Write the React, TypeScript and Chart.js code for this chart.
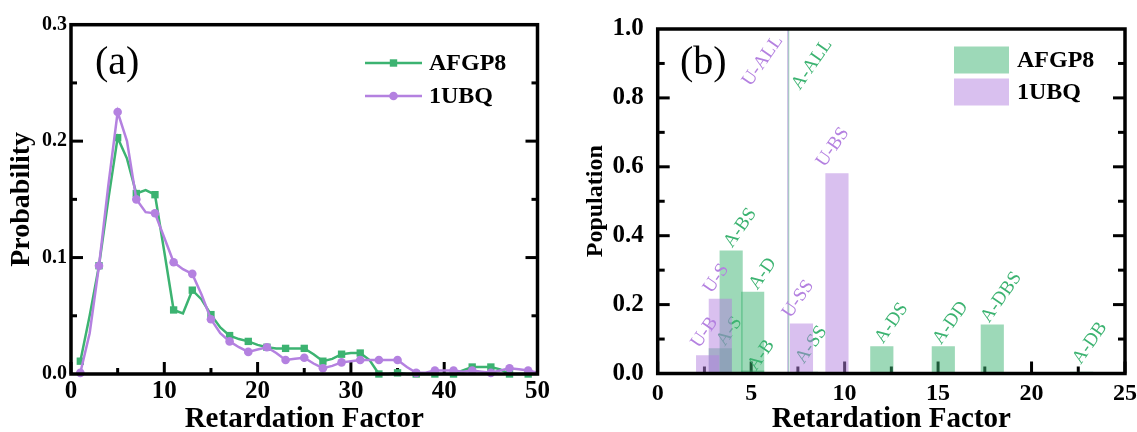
import React, { useEffect, useRef } from 'react';
import { Chart, registerables } from 'chart.js';

Chart.register(...registerables);

const FONT = '"Liberation Serif", "Times New Roman", serif';
const GREEN = '#3cb371';
const PURPLE = '#b481e0';
const GREEN_FILL = 'rgba(60,179,113,0.5)';
const PURPLE_FILL = 'rgba(180,129,224,0.5)';

// ---------- Panel (a) ----------
const retardationFactors = [
  1, 2, 3, 4, 5, 6, 7, 8, 9, 10, 11, 12, 13, 14, 15, 16, 17, 18, 19, 20, 21, 22, 23, 24, 25,
  26, 27, 28, 29, 30, 31, 32, 33, 34, 35, 36, 37, 38, 39, 40, 41, 42, 43, 44, 45, 46, 47, 48, 49, 50,
];
const afgp8Probability = [
  0.011, 0.05, 0.093, 0.15, 0.203, 0.185, 0.155, 0.158, 0.154, 0.105,
  0.055, 0.052, 0.072, 0.064, 0.051, 0.04, 0.033, 0.03, 0.028, 0.025,
  0.023, 0.022, 0.022, 0.022, 0.022, 0.017, 0.011, 0.013, 0.017, 0.018,
  0.018, 0.012, 0.0, 0.0, 0.001, 0.0, 0.0, 0.0, 0.0, 0.0,
  0.0, 0.003, 0.006, 0.006, 0.006, 0.004, 0.0, 0.0, 0.0, 0.0,
];
const ubqProbability = [
  0.001, 0.035, 0.093, 0.162, 0.225, 0.2, 0.15, 0.139, 0.138, 0.117,
  0.096, 0.09, 0.086, 0.068, 0.047, 0.035, 0.028, 0.023, 0.019, 0.021,
  0.023, 0.018, 0.012, 0.013, 0.014, 0.009, 0.005, 0.007, 0.01, 0.011,
  0.012, 0.012, 0.012, 0.012, 0.012, 0.006, 0.001, 0.001, 0.003, 0.003,
  0.003, 0.002, 0.003, 0.002, 0.001, 0.003, 0.005, 0.004, 0.003, 0.001,
];
const aXMajorTicks = [0, 10, 20, 30, 40, 50];
const aXMinorTicks = [5, 15, 25, 35, 45];
const aYMajorTicks = [0.1, 0.2];
const aYMinorTicks = [0.05, 0.15, 0.25];

// ---------- Panel (b) ----------
const ubqStates = ['U-B', 'U-S', 'U-SS', 'U-BS'];
const ubqStateFactor = [2.67, 3.35, 7.69, 9.59];
const ubqStatePopulation = [0.052, 0.216, 0.144, 0.58];
const ubqLabelFactor = [2.22, 2.88, 7.1, 8.92];
const ubqLabelPopulation = [0.072, 0.231, 0.159, 0.597];

const afgpStates = ['A-S', 'A-BS', 'A-D', 'A-B', 'A-SS', 'A-DS', 'A-DD', 'A-DBS', 'A-DB'];
const afgpStateFactor = [3.35, 3.93, 5.08, 5.08, 7.96, 11.99, 15.28, 17.9, 22.68];
const afgpStatePopulation = [0.072, 0.356, 0.236, 0.008, 0.004, 0.078, 0.078, 0.141, 0.004];
const afgpLabelFactor = [3.59, 3.97, 5.32, 5.26, 7.81, 12.05, 15.16, 17.73, 22.63];
const afgpLabelPopulation = [0.078, 0.363, 0.241, 0.006, 0.026, 0.085, 0.082, 0.145, 0.025];

const allLabels = ['U-ALL', 'A-ALL'];
const allFactor = [6.96, 7.0];
const allLabelFactor = [4.96, 7.6];
const allLabelPopulation = [0.832, 0.821];

const bXMajorTicks = [0, 5, 10, 15, 20, 25];
const bXMinorTicks = [2.5, 7.5, 12.5, 17.5, 22.5];
const bYMajorTicks = [0.2, 0.4, 0.6, 0.8];
const bYMinorTicks = [0.1, 0.3, 0.5, 0.7, 0.9];

const LABEL_ANGLE = (-55 * Math.PI) / 180;

function frameTicksPlugin(spec: any) {
  return {
    id: 'frameTicks',
    beforeDatasetsDraw(chart: any) {
      const { ctx, chartArea: a, scales } = chart;
      const xs = scales.x;
      const ys = scales.y;
      ctx.save();
      ctx.strokeStyle = '#000';
      ctx.lineWidth = 3;
      const seg = (x1: number, y1: number, x2: number, y2: number) => {
        ctx.beginPath();
        ctx.moveTo(x1, y1);
        ctx.lineTo(x2, y2);
        ctx.stroke();
      };
      spec.xMajor.forEach((v: number) => {
        const p = xs.getPixelForValue(v);
        seg(p, a.bottom, p, a.bottom - spec.major);
      });
      spec.xMinor.forEach((v: number) => {
        const p = xs.getPixelForValue(v);
        seg(p, a.bottom, p, a.bottom - spec.minor);
      });
      spec.yMajor.forEach((v: number) => {
        const p = ys.getPixelForValue(v);
        seg(a.left, p, a.left + spec.major, p);
        seg(a.right, p, a.right - spec.major, p);
      });
      spec.yMinor.forEach((v: number) => {
        const p = ys.getPixelForValue(v);
        seg(a.left, p, a.left + spec.minor, p);
        seg(a.right, p, a.right - spec.minor, p);
      });
      ctx.restore();
    },
    afterDatasetsDraw(chart: any) {
      const { ctx, chartArea: a } = chart;
      ctx.save();
      ctx.strokeStyle = '#000';
      ctx.lineWidth = 3.5;
      ctx.strokeRect(a.left, a.top, a.right - a.left, a.bottom - a.top);
      ctx.restore();
    },
  };
}

function decorPlugin(spec: any) {
  return {
    id: 'decor',
    afterDraw(chart: any) {
      const { ctx, chartArea: a } = chart;
      ctx.save();
      ctx.fillStyle = '#000';
      ctx.font = `bold ${spec.xTitleSize}px ${FONT}`;
      ctx.textAlign = 'center';
      ctx.textBaseline = 'alphabetic';
      ctx.fillText(spec.xTitle, (a.left + a.right) / 2, spec.xTitleY);
      ctx.save();
      ctx.translate(spec.yTitleX, (a.top + a.bottom) / 2);
      ctx.rotate(-Math.PI / 2);
      ctx.font = `bold ${spec.yTitleSize}px ${FONT}`;
      ctx.fillText(spec.yTitle, 0, 0);
      ctx.restore();
      ctx.font = `40px ${FONT}`;
      ctx.textAlign = 'left';
      ctx.fillText(spec.letter, spec.letterX, 74);
      ctx.font = `bold 24px ${FONT}`;
      ctx.textBaseline = 'middle';
      spec.legend.forEach((item: any) => {
        if (spec.kind === 'line') {
          ctx.strokeStyle = item.color;
          ctx.lineWidth = 2.5;
          ctx.beginPath();
          ctx.moveTo(spec.legendX, item.y);
          ctx.lineTo(spec.legendX + 57, item.y);
          ctx.stroke();
          ctx.fillStyle = item.color;
          const cx = spec.legendX + 28.5;
          if (item.marker === 'rect') {
            ctx.fillRect(cx - 3.7, item.y - 3.7, 7.4, 7.4);
          } else {
            ctx.beginPath();
            ctx.arc(cx, item.y, 4.3, 0, Math.PI * 2);
            ctx.fill();
          }
          ctx.fillStyle = '#000';
          ctx.fillText(item.label, spec.legendX + 64, item.y + 1);
        } else {
          ctx.fillStyle = item.color;
          ctx.fillRect(spec.legendX, item.y - 13.5, 55, 27);
          ctx.fillStyle = '#000';
          ctx.fillText(item.label, spec.legendX + 63, item.y + 1);
        }
      });
      ctx.restore();
    },
  };
}

function drawStateLabels(chart: any, names: string[], xs: number[], ys: number[], color: string) {
  const { ctx, scales } = chart;
  ctx.save();
  ctx.fillStyle = color;
  ctx.font = `19px ${FONT}`;
  ctx.textAlign = 'left';
  ctx.textBaseline = 'alphabetic';
  names.forEach((n, i) => {
    const px = scales.x.getPixelForValue(xs[i]);
    const py = scales.y.getPixelForValue(ys[i]);
    ctx.save();
    ctx.translate(px, py);
    ctx.rotate(LABEL_ANGLE);
    ctx.fillText(n, 0, 0);
    ctx.restore();
  });
  ctx.restore();
}

const stateLabelPlugin = {
  id: 'stateLabels',
  afterDatasetDraw(chart: any, args: any) {
    if (args.index === 1) {
      drawStateLabels(chart, afgpStates, afgpLabelFactor, afgpLabelPopulation, GREEN);
      drawStateLabels(chart, [allLabels[1]], [allLabelFactor[1]], [allLabelPopulation[1]], GREEN);
    }
    if (args.index === 0) {
      drawStateLabels(chart, ubqStates, ubqLabelFactor, ubqLabelPopulation, PURPLE);
      drawStateLabels(chart, [allLabels[0]], [allLabelFactor[0]], [allLabelPopulation[0]], PURPLE);
    }
  },
};

const tickFont = (size: number) => ({ family: FONT, size, weight: 'bold' as const });

function PanelA() {
  const ref = useRef<HTMLCanvasElement>(null);
  useEffect(() => {
    if (!ref.current) return;
    const markerRadius = (r: number) => (c: any) => (c.dataIndex % 2 === 0 ? r : 0);
    const chart = new Chart(ref.current, {
      type: 'line',
      data: {
        datasets: [
          {
            label: '1UBQ',
            data: retardationFactors.map((x, i) => ({ x, y: ubqProbability[i] })),
            borderColor: PURPLE,
            backgroundColor: PURPLE,
            borderWidth: 2.5,
            pointStyle: 'circle',
            pointRadius: markerRadius(4.3),
            pointBorderWidth: 0,
            pointBackgroundColor: PURPLE,
            tension: 0,
            clip: false,
          } as any,
          {
            label: 'AFGP8',
            data: retardationFactors.map((x, i) => ({ x, y: afgp8Probability[i] })),
            borderColor: GREEN,
            backgroundColor: GREEN,
            borderWidth: 2.5,
            pointStyle: 'rect',
            pointRadius: markerRadius(5.2),
            pointBorderWidth: 0,
            pointBackgroundColor: GREEN,
            tension: 0,
            clip: false,
          } as any,
        ],
      },
      options: {
        responsive: false,
        animation: false,
        events: [],
        layout: { padding: { left: 0, right: 32.5, top: 24.7, bottom: 0 }, autoPadding: false } as any,
        plugins: { legend: { display: false }, tooltip: { enabled: false } },
        scales: {
          x: {
            type: 'linear',
            min: 0,
            max: 50,
            grid: { display: false, drawTicks: false, tickLength: 0 },
            border: { display: false },
            ticks: { stepSize: 10, autoSkip: false, maxRotation: 0, color: '#000', padding: 3, font: tickFont(25) },
            afterFit: (s: any) => { s.height = 58; },
          },
          y: {
            type: 'linear',
            min: 0,
            max: 0.3,
            grid: { display: false, drawTicks: false, tickLength: 0 },
            border: { display: false },
            ticks: {
              stepSize: 0.1,
              autoSkip: false,
              color: '#000',
              padding: 4,
              font: tickFont(20),
              callback: (v: any) => Number(v).toFixed(1),
            },
            afterFit: (s: any) => { s.width = 71; },
          },
        },
      } as any,
      plugins: [
        frameTicksPlugin({ xMajor: aXMajorTicks, xMinor: aXMinorTicks, yMajor: aYMajorTicks, yMinor: aYMinorTicks, major: 12, minor: 6 }),
        decorPlugin({
          kind: 'line',
          xTitle: 'Retardation Factor',
          xTitleSize: 29,
          xTitleY: 427,
          yTitle: 'Probability',
          yTitleSize: 28,
          yTitleX: 29,
          letter: '(a)',
          letterX: 95,
          legendX: 365,
          legend: [
            { label: 'AFGP8', color: GREEN, marker: 'rect', y: 63 },
            { label: '1UBQ', color: PURPLE, marker: 'circle', y: 96 },
          ],
        }),
      ],
    });
    return () => chart.destroy();
  }, []);
  return <canvas ref={ref} width={570} height={432} style={{ position: 'absolute', left: 0, top: 0 }} />;
}

function PanelB() {
  const ref = useRef<HTMLCanvasElement>(null);
  useEffect(() => {
    if (!ref.current) return;
    const chart = new Chart(ref.current, {
      type: 'bar',
      data: {
        datasets: [
          {
            type: 'bar',
            label: '1UBQ',
            data: ubqStateFactor.map((x, i) => ({ x, y: ubqStatePopulation[i] })),
            backgroundColor: PURPLE_FILL,
            borderWidth: 0,
            barThickness: 22.5,
            grouped: false,
          } as any,
          {
            type: 'bar',
            label: 'AFGP8',
            data: afgpStateFactor.map((x, i) => ({ x, y: afgpStatePopulation[i] })),
            backgroundColor: GREEN_FILL,
            borderWidth: 0,
            barThickness: 22.5,
            grouped: false,
          } as any,
          {
            type: 'line',
            label: 'U-ALL',
            data: [{ x: allFactor[0], y: 0 }, { x: allFactor[0], y: 1 }],
            borderColor: 'rgba(180,129,224,0.45)',
            borderWidth: 1.5,
            pointRadius: 0,
          } as any,
          {
            type: 'line',
            label: 'A-ALL',
            data: [{ x: allFactor[1], y: 0 }, { x: allFactor[1], y: 1 }],
            borderColor: 'rgba(60,179,113,0.45)',
            borderWidth: 1.5,
            pointRadius: 0,
          } as any,
        ],
      },
      options: {
        responsive: false,
        animation: false,
        events: [],
        layout: { padding: { left: 0, right: 35, top: 25, bottom: 0 }, autoPadding: false } as any,
        plugins: { legend: { display: false }, tooltip: { enabled: false } },
        scales: {
          x: {
            type: 'linear',
            min: 0,
            max: 25,
            offset: false,
            grid: { display: false, drawTicks: false, tickLength: 0, offset: false },
            border: { display: false },
            ticks: { stepSize: 5, autoSkip: false, maxRotation: 0, color: '#000', padding: 6, font: tickFont(24) },
            afterFit: (s: any) => { s.height = 58.5; },
          },
          y: {
            type: 'linear',
            min: 0,
            max: 1,
            grid: { display: false, drawTicks: false, tickLength: 0 },
            border: { display: false },
            ticks: {
              stepSize: 0.2,
              autoSkip: false,
              color: '#000',
              padding: 14,
              font: tickFont(25),
              callback: (v: any) => Number(v).toFixed(1),
            },
            afterFit: (s: any) => { s.width = 87.7; },
          },
        },
      } as any,
      plugins: [
        frameTicksPlugin({ xMajor: bXMajorTicks, xMinor: bXMinorTicks, yMajor: bYMajorTicks, yMinor: bYMinorTicks, major: 12, minor: 7 }),
        stateLabelPlugin,
        decorPlugin({
          kind: 'bar',
          xTitle: 'Retardation Factor',
          xTitleSize: 29,
          xTitleY: 427,
          yTitle: 'Population',
          yTitleSize: 24,
          yTitleX: 32,
          letter: '(b)',
          letterX: 110,
          legendX: 384,
          legend: [
            { label: 'AFGP8', color: GREEN_FILL, y: 60 },
            { label: '1UBQ', color: PURPLE_FILL, y: 92 },
          ],
        }),
      ],
    });
    return () => chart.destroy();
  }, []);
  return <canvas ref={ref} width={590} height={432} style={{ position: 'absolute', left: 570, top: 0 }} />;
}

export default function App() {
  return (
    <div style={{ position: 'fixed', left: 0, top: 0, width: 1137, height: 432, background: '#fff', overflow: 'hidden' }}>
      <PanelA />
      <PanelB />
    </div>
  );
}
